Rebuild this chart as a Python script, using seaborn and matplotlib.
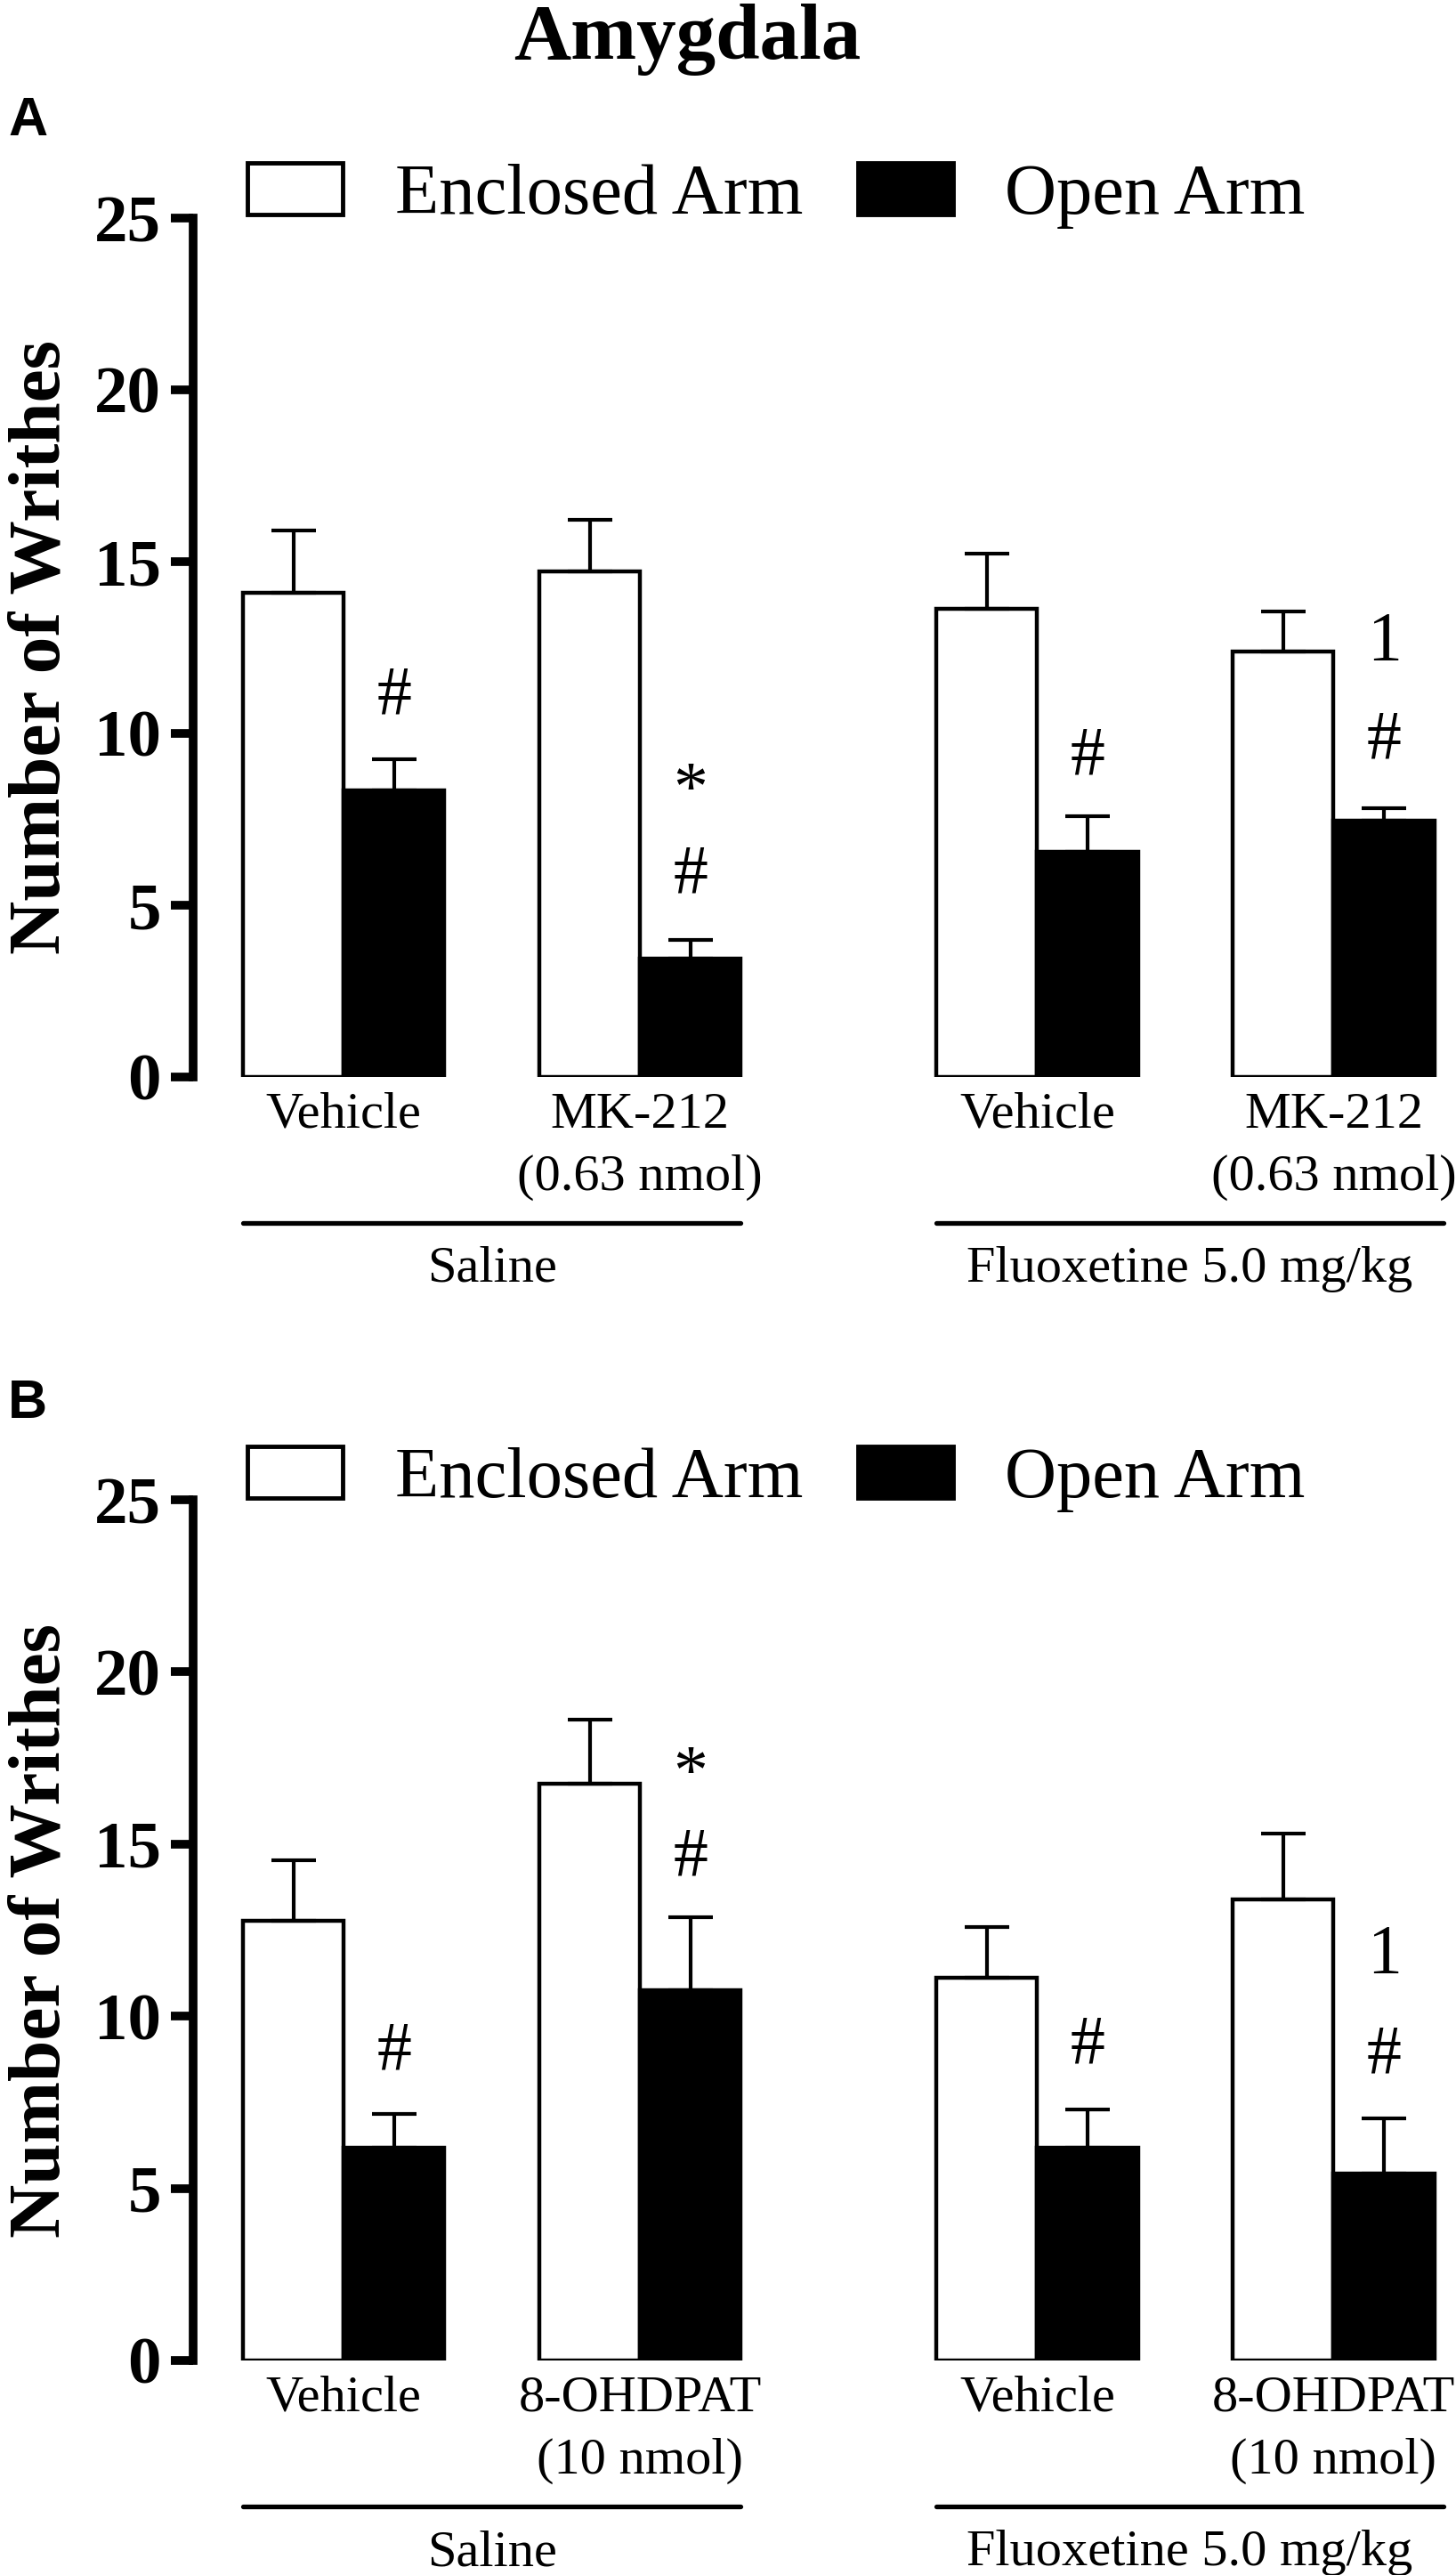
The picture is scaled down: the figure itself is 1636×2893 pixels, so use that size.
import numpy as np
import pandas as pd
import seaborn as sns
import matplotlib.pyplot as plt
from matplotlib.patches import Patch

# bar positions (pairs), Saline group then Fluoxetine group
positions = [0.0, 1.0, 2.34, 3.34]
arms = ['Enclosed Arm', 'Open Arm']

# panel A: MK-212
a_ticks = ['Vehicle', 'MK-212\n(0.63 nmol)', 'Vehicle', 'MK-212\n(0.63 nmol)']
a_enclosed = [14.10, 14.72, 13.63, 12.38]
a_enclosed_sem = [1.81, 1.49, 1.61, 1.18]
a_open = [8.34, 3.44, 6.56, 7.46]
a_open_sem = [0.90, 0.54, 1.03, 0.36]
a_marks_idx = [0, 1, 1, 2, 3, 3]
a_marks_txt = ['#', '*', '#', '#', '1', '#']
a_marks_y = [10.58, 7.8, 5.37, 8.81, 12.15, 9.30]

# panel B: 8-OHDPAT
b_ticks = ['Vehicle', '8-OHDPAT\n(10 nmol)', 'Vehicle', '8-OHDPAT\n(10 nmol)']
b_enclosed = [12.78, 16.76, 11.12, 13.40]
b_enclosed_sem = [1.75, 1.86, 1.47, 1.91]
b_open = [6.19, 10.75, 6.19, 5.43]
b_open_sem = [0.97, 2.12, 1.11, 1.61]
b_marks_idx = [0, 1, 1, 2, 3, 3]
b_marks_txt = ['#', '*', '#', '#', '1', '#']
b_marks_y = [8.47, 16.5, 14.09, 8.66, 11.28, 8.36]

groups = ['Saline', 'Fluoxetine 5.0 mg/kg']
yticks = [0, 5, 10, 15, 20, 25]

sns.set_theme(style='ticks')
plt.rcParams['font.family'] = ['Liberation Serif', 'DejaVu Serif']
for k in ['text.color', 'axes.labelcolor', 'xtick.color', 'ytick.color', 'axes.edgecolor']:
    plt.rcParams[k] = 'black'

W, H = 1636, 2893
fig = plt.figure(figsize=(W / 100, H / 100), dpi=100)

BW = 0.68  # total width of a pair


def panel(rect, ticks, enc, enc_sem, opn, opn_sem, m_idx, m_txt, m_y, letter, letter_y, legend_y):
    ax = fig.add_axes(rect)
    df = pd.DataFrame({
        'pos': positions * 2,
        'arm': [arms[0]] * 4 + [arms[1]] * 4,
        'value': enc + opn,
    })
    sns.barplot(data=df, x='pos', y='value', hue='arm', hue_order=arms,
                palette={arms[0]: 'white', arms[1]: 'black'},
                native_scale=True, width=BW, errorbar=None, legend=False,
                edgecolor='black', linewidth=3.2, saturation=1, ax=ax)
    pos = np.array(positions)
    ax.errorbar(pos - BW / 4, enc, yerr=[np.zeros(4), enc_sem], fmt='none',
                ecolor='black', elinewidth=3, capsize=18, capthick=3, zorder=1)
    ax.errorbar(pos + BW / 4, opn, yerr=[np.zeros(4), opn_sem], fmt='none',
                ecolor='black', elinewidth=3, capsize=18, capthick=3, zorder=1)

    for i, t, y in zip(m_idx, m_txt, m_y):
        ax.text(positions[i] + BW / 4, y, t, ha='center', va='baseline', fontsize=56)

    ax.set_xlim(-0.508, 3.72)
    ax.set_ylim(0, 25)
    ax.set_yticks(yticks)
    ax.set_yticklabels([str(v) for v in yticks], fontsize=54, fontweight='bold')
    ax.set_xticks(positions)
    ax.set_xticklabels(ticks, fontsize=42, linespacing=1.45)
    ax.tick_params(axis='x', length=0, pad=12)
    ax.tick_params(axis='y', length=18, width=7, pad=8)
    ax.set_xlabel('')
    ax.set_ylabel('Number of Writhes', fontsize=60, fontweight='bold', va='center')
    ax.yaxis.set_label_coords(-0.121, 0.5)
    sns.despine(ax=ax, bottom=True)
    ax.spines['left'].set_linewidth(7)

    # group lines under the tick labels
    tr = ax.get_xaxis_transform()
    spans = [(positions[0] - BW / 2, positions[1] + BW / 2),
             (positions[2] - BW / 2, positions[3] + BW / 2 + 0.03)]
    for (x0, x1), g in zip(spans, groups):
        ax.plot([x0, x1], [-0.170, -0.170], color='black', lw=3.8,
                transform=tr, clip_on=False)
        ax.text((x0 + x1) / 2, -0.238, g, transform=tr, ha='center',
                va='baseline', fontsize=42)

    handles = [Patch(facecolor='white', edgecolor='black', linewidth=3.5),
               Patch(facecolor='black', edgecolor='black', linewidth=3.5)]
    fig.legend(handles=handles, labels=arms, ncol=2, frameon=False,
               loc='center left', bbox_to_anchor=(278 / W, 1 - legend_y / H),
               fontsize=58, handlelength=1.33, handleheight=0.72,
               handletextpad=0.73, columnspacing=0.76, borderpad=0,
               borderaxespad=0)
    fig.text(9 / W, 1 - letter_y / H, letter, ha='left', va='center',
             fontsize=44, fontweight='bold', family='Liberation Sans')
    return ax


left = 217 / W
width = 1408 / W
panel([left, 1 - 1210 / H, width, 965 / H], a_ticks, a_enclosed, a_enclosed_sem,
      a_open, a_open_sem, a_marks_idx, a_marks_txt, a_marks_y, 'A', 136, 220)
panel([left, 1 - 2652 / H, width, 967 / H], b_ticks, b_enclosed, b_enclosed_sem,
      b_open, b_open_sem, b_marks_idx, b_marks_txt, b_marks_y, 'B', 1578, 1662)

fig.text(772 / W, 1 - 66 / H, 'Amygdala', ha='center', va='baseline',
         fontsize=64, fontweight='bold')

fig.savefig('out.png', dpi=100)
